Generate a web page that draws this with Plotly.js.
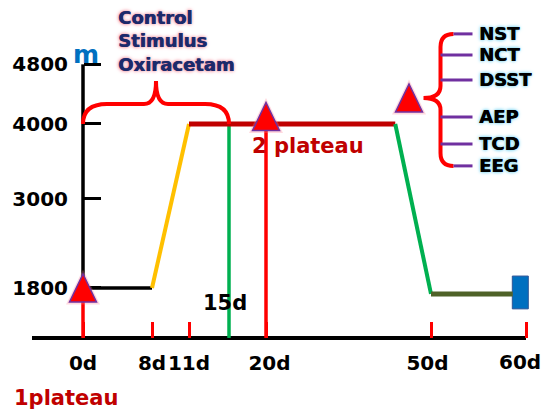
<!DOCTYPE html>
<html>
<head>
<meta charset="utf-8">
<script src="https://cdn.plot.ly/plotly-3.0.1.min.js"></script>
<style>html,body{margin:0;padding:0;background:#fff;}#chart{width:544px;height:411px;}</style>
</head>
<body>
<div id="chart"></div>
<script>
// ---------------- data ----------------
const groupNames = ['Control', 'Stimulus', 'Oxiracetam'];
const testNames = ['NST', 'NCT', 'DSST', 'AEP', 'TCD', 'EEG'];
const altTicks = [1800, 3000, 4000, 4800];
const dayTickDays = [0, 8, 11, 20, 50, 60];
const dayTickLabels = ['0d', '8d', '11d', '20d', '50d', '60d'];

const lowDays = [0, 8];        const lowAlt = [1800, 1800];
const ascentDays = [8, 11];    const ascentAlt = [1800, 4000];
const plateauDays = [11, 43.5]; const plateauAlt = [4000, 4000];
const descentDays = [43.5, 50]; const descentAlt = [4000, 1720];
const returnDays = [50, 58.6]; const returnAlt = [1720, 1720];
const endDay = 59.4; const endBoxLow = 1520; const endBoxHigh = 1960;

const testDays = [0, 20, 46];          // red triangles
const testAlt = [1800, 4100, 4350];
const markerDays = [0, 15, 20];        // vertical guide lines
const markerTop = [1800, 4000, 4100];
const groundAlt = 1130;
const axisTopAlt = 4800;

// ---------------- schematic timeline (non-proportional day spacing) ----------------
const scheduleDays = [0, 8, 11, 15, 20, 50, 60];
const scheduleSlots = [0, 69, 106, 146, 183, 348, 443];
function dayToX(d) {
  for (let i = 0; i < scheduleDays.length - 1; i++) {
    if (d <= scheduleDays[i + 1] || i === scheduleDays.length - 2) {
      const t = (d - scheduleDays[i]) / (scheduleDays[i + 1] - scheduleDays[i]);
      return scheduleSlots[i] + t * (scheduleSlots[i + 1] - scheduleSlots[i]);
    }
  }
}
const X = arr => arr.map(dayToX);

const xRange = [-83, 461];
const yRange = [150, 5663];

const RED = '#ff0000', DARKRED = '#c00000', PURPLE = '#7030a0';
const FONT = 'DejaVu Sans';
const NB = '\u00a0';
// small label nudges (non-breaking spaces) so labels sit as in the original
const tickPadLeft = ['', '', '', NB, '', ''];
const tickPadRight = ['', '', '', '', NB, ''];

function seg(days, alts, color, width) {
  return {type: 'scatter', mode: 'lines', x: X(days), y: alts,
          line: {color: color, width: width}, hoverinfo: 'skip', cliponaxis: false};
}

const traces = [];
// axis lines
traces.push(seg([0, 0], [altTicks[0], axisTopAlt], '#000', 3.5));
traces.push({type: 'scatter', mode: 'lines', x: [dayToX(0) - 51, dayToX(60)], y: [groundAlt, groundAlt],
             line: {color: '#000', width: 4}, hoverinfo: 'skip'});
// guide verticals
const guideColors = [RED, '#00b050', RED];
markerDays.forEach((d, i) => traces.push(seg([d, d], [groundAlt, markerTop[i]], guideColors[i], 3.5)));
// profile
traces.push(seg(lowDays, lowAlt, '#000', 3.5));
traces.push(seg(ascentDays, ascentAlt, '#ffc000', 4));
traces.push(seg(plateauDays, plateauAlt, DARKRED, 5));
traces.push(seg(descentDays, descentAlt, '#00b050', 4));
traces.push(seg(returnDays, returnAlt, '#4f6228', 5));
// end box
traces.push({type: 'bar', x: [dayToX(endDay)], y: [endBoxHigh - endBoxLow], base: [endBoxLow], width: [16],
             marker: {color: '#0070c0', line: {color: '#2f5597', width: 1}}, hoverinfo: 'skip'});

// ---------------- shapes ----------------
const shapes = [];
// triangles
testDays.forEach((d, i) => {
  const base = {type: 'path', xref: 'x', yref: 'y', xsizemode: 'pixel', ysizemode: 'pixel',
                xanchor: dayToX(d), yanchor: testAlt[i]};
  shapes.push(Object.assign({}, base, {path: 'M -17 -16.5 L 17 -16.5 L 0 18.5 Z',
               fillcolor: 'rgba(255,130,150,0.3)', line: {width: 0}}));
  shapes.push(Object.assign({}, base, {path: 'M -13.5 -14 L 13.5 -14 L 0 14 Z',
               fillcolor: RED, line: {color: PURPLE, width: 1.5}}));
});
// left brace (over days 0-15 at 4000 m)
(function () {
  const x0 = dayToX(0), x1 = dayToX(15), xm = (x0 + x1) / 2;
  const h = 20, tip = 43;
  shapes.push({type: 'path', xref: 'x', yref: 'y', ysizemode: 'pixel', yanchor: 4000,
    path: `M ${x0} 0 Q ${x0} ${h} ${x0 + 24} ${h} L ${xm - 12} ${h} Q ${xm} ${h} ${xm} ${tip} ` +
          `Q ${xm} ${h} ${xm + 12} ${h} L ${x1 - 24} ${h} Q ${x1} ${h} ${x1} 0`,
    line: {color: RED, width: 4}});
})();
// right brace + connectors (anchored at the last test triangle)
const testOffsets = [64, 43, 18, -19, -46, -68];
const rAnchor = {xref: 'x', yref: 'y', xsizemode: 'pixel', ysizemode: 'pixel',
                 xanchor: dayToX(testDays[2]), yanchor: testAlt[2]};
shapes.push(Object.assign({}, rAnchor, {type: 'path',
  path: 'M 44.5 64 Q 31.5 64 31.5 51 L 31.5 12 Q 31.5 0 14.5 0 Q 31.5 0 31.5 -12 L 31.5 -55 Q 31.5 -68 44.5 -68',
  line: {color: RED, width: 4}}));
testOffsets.forEach((o, i) => {
  const start = (i === 0 || i === testOffsets.length - 1) ? 44.5 : 31.5;
  shapes.push(Object.assign({}, rAnchor, {type: 'line', x0: start, x1: 63.5, y0: o, y1: o,
    line: {color: PURPLE, width: 3}}));
});

// ---------------- annotations ----------------
const annotations = [];
testNames.forEach((t, i) => annotations.push({
  xref: 'x', yref: 'y', x: dayToX(testDays[2]), y: testAlt[2], xshift: 68, yshift: testOffsets[i],
  text: '<b>' + t + '</b>', showarrow: false, xanchor: 'left', yanchor: 'middle',
  font: {family: FONT, size: 18, color: '#000',
         shadow: '0.5px 0 0 #000, 0 0 3px #6fd0f0, 0 0 4px #9fe2f7'}
}));
annotations.push({
  xref: 'paper', yref: 'paper', x: 116 / 544, y: 1 - 5 / 411, xanchor: 'left', yanchor: 'top', align: 'left',
  text: groupNames.map(g => '<b>' + g + '</b>').join('<br>'), showarrow: false,
  font: {family: FONT, size: 18, color: '#1c2a6b',
         shadow: '0.6px 0 0 #1c2a6b, 0 0 3px #f08a9a, 0 0 4px #f5a5b2'}
});
annotations.push({xref: 'paper', yref: 'paper', x: 86 / 544, y: 1 - 55 / 411, text: '<b>m</b>', showarrow: false,
  xanchor: 'center', yanchor: 'middle', font: {family: FONT, size: 25, color: '#0070c0'}});
annotations.push({xref: 'paper', yref: 'paper', x: 250 / 544, y: 1 - 146 / 411, text: '<b>2 plateau</b>', showarrow: false,
  xanchor: 'left', yanchor: 'middle', font: {family: FONT, size: 21, color: DARKRED}});
annotations.push({xref: 'paper', yref: 'paper', x: 12 / 544, y: 1 - 398 / 411, text: '<b>1plateau</b>', showarrow: false,
  xanchor: 'left', yanchor: 'middle', font: {family: FONT, size: 21, color: DARKRED}});
annotations.push({xref: 'x', yref: 'paper', x: dayToX(15) - 4, y: 1 - 303 / 411, text: '<b>15d</b>', showarrow: false,
  xanchor: 'center', yanchor: 'middle', font: {family: FONT, size: 21, color: '#000'}});
// last day label sits against the right edge of the picture
annotations.push({xref: 'paper', yref: 'paper', x: 543 / 544, y: 1 - 362 / 411,
  text: '<b>' + dayTickLabels[dayTickLabels.length - 1] + '</b>', showarrow: false,
  xanchor: 'right', yanchor: 'middle', font: {family: FONT, size: 20, color: '#000'}});

const layout = {
  width: 544, height: 411, margin: {l: 0, r: 0, t: 0, b: 0},
  paper_bgcolor: '#fff', plot_bgcolor: '#fff', showlegend: false,
  xaxis: {range: xRange, anchor: 'free', position: (groundAlt - yRange[0]) / (yRange[1] - yRange[0]),
          showgrid: false, zeroline: false, showline: false, fixedrange: true,
          tickmode: 'array', tickvals: X(dayTickDays),
          ticktext: dayTickLabels.map((t, i) => i === dayTickLabels.length - 1 ? '' :
                    '<b>' + tickPadLeft[i] + t + tickPadRight[i] + '</b>'),
          tickangle: 0, ticklabeloverflow: 'allow',
          ticks: 'inside', ticklen: 16, tickwidth: 3, tickcolor: RED,
          tickfont: {family: FONT, size: 20, color: '#000'}, ticklabelstandoff: 11},
  yaxis: {range: yRange, anchor: 'free', position: (0 - xRange[0]) / (xRange[1] - xRange[0]),
          showgrid: false, zeroline: false, showline: false, fixedrange: true,
          tickmode: 'array', tickvals: altTicks, ticktext: altTicks.map(v => '<b>' + v + '</b>'),
          ticks: 'inside', ticklen: 17, tickwidth: 3, tickcolor: '#000',
          tickfont: {family: FONT, size: 20, color: '#000'}, ticklabelstandoff: 15},
  shapes: shapes, annotations: annotations, bargap: 0
};

Plotly.newPlot('chart', traces, layout, {displayModeBar: false, staticPlot: true});
</script>
</body>
</html>
